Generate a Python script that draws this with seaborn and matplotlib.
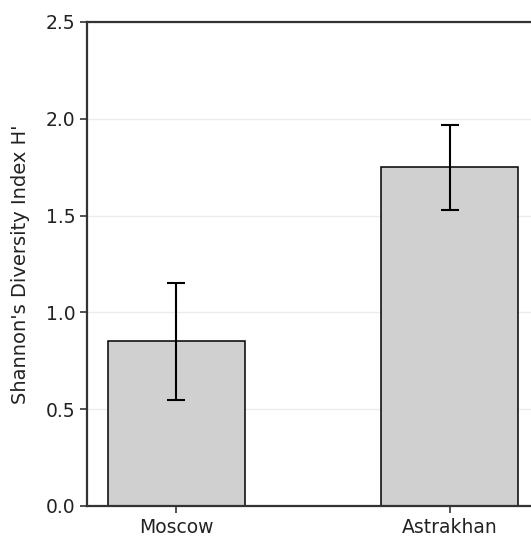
import pandas as pd
import matplotlib
matplotlib.use("Agg")
import matplotlib.pyplot as plt
import seaborn as sns

# Data
regions = ["Moscow", "Astrakhan"]
shannon_mean = [0.85, 1.75]
shannon_err = [0.30, 0.22]

df = pd.DataFrame({"region": regions, "H": shannon_mean})

sns.set_style("white")
plt.rcParams["font.family"] = ["DejaVu Sans"]

fig = plt.figure(figsize=(5.31, 5.36), dpi=100)
ax = fig.add_axes([0.164, 0.056, 0.851, 0.903])

sns.barplot(data=df, x="region", y="H", color="#d0d0d0", saturation=1,
            width=0.5, edgecolor="black", linewidth=1.1, ax=ax, zorder=2)
ax.errorbar(range(len(regions)), shannon_mean, yerr=shannon_err, fmt="none",
            ecolor="black", elinewidth=1.5, capsize=6.5, capthick=1.5, zorder=3)

ax.set_xlim(-0.325, 1.325)
ax.set_ylim(0, 2.5)
ax.set_yticks([0.0, 0.5, 1.0, 1.5, 2.0, 2.5])
ax.yaxis.grid(True, color="#ececec", linewidth=1, zorder=0)
ax.set_axisbelow(True)

ax.set_xlabel("")
ax.set_ylabel("Shannon's Diversity Index H'", fontsize=14, labelpad=11,
              color="#222222")
ax.tick_params(axis="both", labelsize=13.5, length=5, width=1.2, color="#333333",
               labelcolor="#222222", left=True, bottom=True)
for s in ax.spines.values():
    s.set_color("#333333")
    s.set_linewidth(1.6)

fig.savefig("out.png", dpi=100)
